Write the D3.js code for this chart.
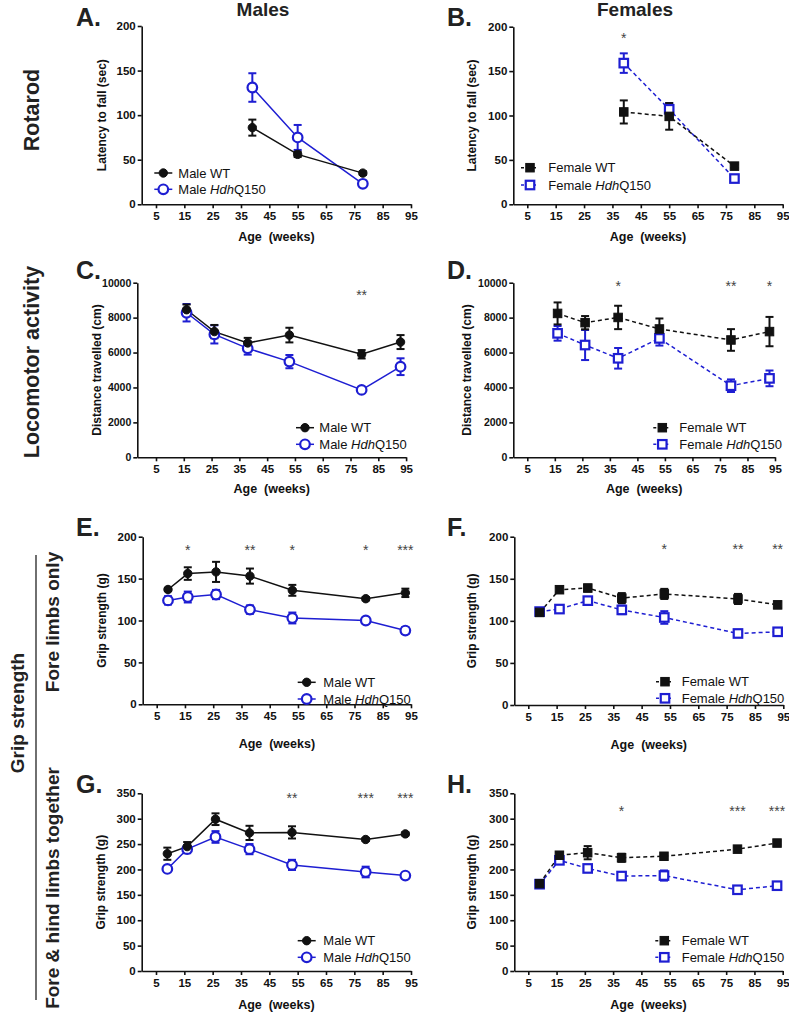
<!DOCTYPE html>
<html><head><meta charset="utf-8">
<script src="https://cdn.jsdelivr.net/npm/d3@7"></script>
<style>body{margin:0;background:#fff}svg{display:block}</style>
</head><body>
<svg id="c" width="789" height="1022"></svg>
<script>
// ---------------- DATA ----------------
const xTickLabels = [5, 15, 25, 35, 45, 55, 65, 75, 85, 95];

const rotarodWeeks = [39, 55, 78];
const maleWTRotarod = [86, 56, 35];
const maleWTRotarodErr = [9, 3, 2];
const maleQRotarod = [131, 75, 23];
const maleQRotarodErr = [16, 14, 2];
const femaleWTRotarod = [104, 99, 43];
const femaleWTRotarodErr = [13, 15, 2];
const femaleQRotarod = [159, 107, 29];
const femaleQRotarodErr = [11, 7, 2];

const locoWeeks = [16, 26, 38, 53, 79, 93];
const maleWTLoco = [8450, 7200, 6550, 7000, 5900, 6600];
const maleWTLocoErr = [300, 380, 290, 420, 240, 400];
const maleQLoco = [8280, 7040, 6240, 5480, 3860, 5190];
const maleQLocoErr = [500, 520, 360, 380, 100, 480];
const femaleWTLoco = [8240, 7710, 8010, 7350, 6720, 7200];
const femaleWTLocoErr = [630, 380, 670, 600, 620, 840];
const femaleQLoco = [7100, 6430, 5670, 6810, 4100, 4520];
const femaleQLocoErr = [420, 860, 590, 410, 360, 450];

const gripWeeks = [9, 16, 26, 38, 53, 79, 93];
const maleWTFore = [137, 156, 158, 153, 136, 126, 133];
const maleWTForeErr = [2, 7.5, 12, 9, 6.5, 2, 5];
const maleQFore = [124, 128, 131, 113, 103, 100, 88];
const maleQForeErr = [5, 6.5, 5.5, 5, 6.5, 2, 4];
const femaleWTFore = [110, 137, 139, 127, 132, 126, 119];
const femaleWTForeErr = [3, 3, 4, 6, 6, 6, 4];
const femaleQFore = [111, 114, 124, 113, 104, 85, 87];
const femaleQForeErr = [3, 4, 4, 5, 7.5, 3, 4];
const maleWTBoth = [231, 245, 299, 272, 273, 259, 270];
const maleWTBothErr = [12, 9, 11.5, 14, 12, 3, 3];
const maleQBoth = [201, 240, 264, 240, 209, 195, 188];
const maleQBothErr = [4, 8, 11.5, 10, 10, 10.5, 3];
const femaleWTBoth = [172, 228, 233, 223, 226, 240, 252];
const femaleWTBothErr = [4, 6, 13, 8, 5, 4, 4];
const femaleQBoth = [171, 218, 202, 187, 188, 160, 168];
const femaleQBothErr = [5, 6, 5, 5, 10, 5, 5];

const starsA = [];
const starsB = [[39, "*"]];
const starsC = [[79, "**"]];
const starsD = [[38, "*"], [79, "**"], [93, "*"]];
const starsE = [[16, "*"], [38, "**"], [53, "*"], [79, "*"], [93, "***"]];
const starsF = [[53, "*"], [79, "**"], [93, "**"]];
const starsG = [[53, "**"], [79, "***"], [93, "***"]];
const starsH = [[38, "*"], [79, "***"], [93, "***"]];

const rotarodTicks = [0, 50, 100, 150, 200];
const locoTicks = [0, 2000, 4000, 6000, 8000, 10000];
const foreTicks = [0, 50, 100, 150, 200];
const bothTicks = [0, 50, 100, 150, 200, 250, 300, 350];

// ---------------- STYLE / LAYOUT ----------------
const FONT = "'Liberation Sans', Arial, Helvetica, sans-serif";
const BLUE = "#1e1ed2";
const svg = d3.select("#c");

function panel(cfg) {
  const g = svg.append("g");
  const per = (cfg.x95 - cfg.x5) / 90;
  const xmin = 5 - (cfg.x5 - cfg.ax) / per;
  const x = d3.scaleLinear().domain([xmin, 95]).range([cfg.ax, cfg.x95]);
  const y = d3.scaleLinear().domain([0, cfg.ymax]).range([cfg.y0, cfg.yTop]);

  const yAx = g.append("g").attr("transform", `translate(${cfg.ax},0)`)
    .call(d3.axisLeft(y).tickValues(cfg.yTicks).tickFormat(d3.format("d"))
      .tickSize(4).tickSizeOuter(0).tickPadding(2));
  const xAx = g.append("g").attr("transform", `translate(0,${cfg.y0})`)
    .call(d3.axisBottom(x).tickValues(xTickLabels).tickSize(4).tickSizeOuter(0).tickPadding(4));
  [yAx, xAx].forEach(a => {
    a.selectAll("path,line").attr("stroke", "#111").attr("stroke-width", 1.6);
    a.selectAll("text").attr("font-family", FONT).attr("font-weight", "bold")
      .attr("font-size", 11.5).attr("fill", "#111");
  });
  yAx.selectAll("text").attr("font-size", cfg.yTickSize);

  // axis titles
  g.append("text").attr("x", (cfg.ax + cfg.x95) / 2).attr("y", cfg.y0 + cfg.xlabOff)
    .attr("text-anchor", "middle").attr("font-family", FONT).attr("font-weight", "bold")
    .attr("font-size", 12.5).attr("fill", "#111").style("white-space", "pre").text("Age  (weeks)");
  g.append("text")
    .attr("transform", `translate(${cfg.ylabX + 4.5},${(cfg.y0 + cfg.yTop) / 2}) rotate(-90)`)
    .attr("text-anchor", "middle").attr("font-family", FONT).attr("font-weight", "bold")
    .attr("font-size", 12).attr("fill", "#111").text(cfg.ylab);

  // panel letter
  g.append("text").attr("x", cfg.letter[0]).attr("y", cfg.letter[1])
    .attr("font-family", FONT).attr("font-weight", "bold").attr("font-size", 25)
    .attr("fill", "#222").text(cfg.letterText);

  const female = cfg.female;
  const series = [
    { vals: cfg.q, err: cfg.qErr, color: BLUE, open: true },
    { vals: cfg.wt, err: cfg.wtErr, color: "#111", open: false }
  ];
  const dash = female ? "4,3" : null;

  // error bars
  series.forEach(s => {
    cfg.weeks.forEach((w, i) => {
      const cx = x(w), y1 = y(s.vals[i] - s.err[i]), y2 = y(s.vals[i] + s.err[i]);
      g.append("line").attr("x1", cx).attr("x2", cx).attr("y1", y1).attr("y2", y2)
        .attr("stroke", s.color).attr("stroke-width", 2);
      [y1, y2].forEach(yy => g.append("line").attr("x1", cx - 4).attr("x2", cx + 4)
        .attr("y1", yy).attr("y2", yy).attr("stroke", s.color).attr("stroke-width", 2));
    });
  });
  // lines
  series.forEach(s => {
    const line = d3.line().x((d, i) => x(cfg.weeks[i])).y(d => y(d));
    g.append("path").datum(s.vals).attr("d", line).attr("fill", "none")
      .attr("stroke", s.color).attr("stroke-width", 1.5)
      .attr("stroke-dasharray", dash);
  });
  // markers
  function marker(sel, cx, cy, s) {
    if (female) {
      const sz = 8.5;
      sel.append("rect").attr("x", cx - sz / 2).attr("y", cy - sz / 2).attr("width", sz).attr("height", sz)
        .attr("fill", s.open ? "#fff" : s.color).attr("stroke", s.color)
        .attr("stroke-width", s.open ? 2.2 : 1);
    } else {
      sel.append("circle").attr("cx", cx).attr("cy", cy).attr("r", s.open ? 4.8 : 4.2)
        .attr("fill", s.open ? "#fff" : s.color).attr("stroke", s.color)
        .attr("stroke-width", s.open ? 2.2 : 1);
    }
  }
  series.forEach(s => {
    cfg.weeks.forEach((w, i) => marker(g, x(w), y(s.vals[i]), s));
  });

  // stars
  cfg.stars.forEach(([w, t]) => {
    g.append("text").attr("x", x(w)).attr("y", y(cfg.starY) + 8).attr("text-anchor", "middle")
      .attr("font-family", FONT).attr("font-size", 14).attr("fill", "#444").text(t);
  });

  // legend
  const L = cfg.legend;
  const ls = [
    { s: series[1], y: L.y1, label: female ? "Female WT" : "Male WT" },
    { s: series[0], y: L.y2, label: female ? "Female " : "Male ", q: true }
  ];
  ls.forEach(item => {
    g.append("line").attr("x1", L.sx - 9).attr("x2", L.sx + 9).attr("y1", item.y).attr("y2", item.y)
      .attr("stroke", item.s.color).attr("stroke-width", 1.5).attr("stroke-dasharray", female ? "3,3" : null);
    marker(g, L.sx, item.y, item.s);
    const t = g.append("text").attr("x", L.tx).attr("y", item.y + 4.7)
      .attr("font-family", FONT).attr("font-size", 13).attr("fill", "#111");
    t.append("tspan").text(item.label);
    if (item.q) {
      t.append("tspan").attr("font-style", "italic").text("Hdh");
      t.append("tspan").text("Q150");
    }
  });
}

const panels = [
  { letterText: "A.", female: false, ax: 141.7, x5: 156, x95: 411, y0: 204.3, yTop: 26, ymax: 200, yTicks: rotarodTicks, yTickSize: 11.5, xlabOff: 37,
    ylab: "Latency to fall (sec)", ylabX: 101.7, letter: [76, 26], legend: { sx: 163.3, tx: 178.3, y1: 173, y2: 189.3 },
    weeks: rotarodWeeks, wt: maleWTRotarod, wtErr: maleWTRotarodErr, q: maleQRotarod, qErr: maleQRotarodErr, stars: starsA, starY: 190 },
  { letterText: "B.", female: true, ax: 513.3, x5: 527.3, x95: 782.7, y0: 204.3, yTop: 26.7, ymax: 200, yTicks: rotarodTicks, yTickSize: 11.5, xlabOff: 37,
    ylab: "Latency to fall (sec)", ylabX: 471.7, letter: [447, 26], legend: { sx: 530, tx: 548.3, y1: 167.7, y2: 185 },
    weeks: rotarodWeeks, wt: femaleWTRotarod, wtErr: femaleWTRotarodErr, q: femaleQRotarod, qErr: femaleQRotarodErr, stars: starsB, starY: 191 },
  { letterText: "C.", female: false, ax: 137.3, x5: 156, x95: 406.1, y0: 457.3, yTop: 282.7, ymax: 10000, yTicks: locoTicks, yTickSize: 10.5, xlabOff: 36,
    ylab: "Distance travelled (cm)", ylabX: 96, letter: [76, 279], legend: { sx: 305, tx: 319.3, y1: 427.7, y2: 444.3 },
    weeks: locoWeeks, wt: maleWTLoco, wtErr: maleWTLocoErr, q: maleQLoco, qErr: maleQLocoErr, stars: starsC, starY: 9485 },
  { letterText: "D.", female: true, ax: 513.3, x5: 527.3, x95: 775, y0: 457.3, yTop: 282.7, ymax: 10000, yTicks: locoTicks, yTickSize: 10.5, xlabOff: 36,
    ylab: "Distance travelled (cm)", ylabX: 466.7, letter: [447, 279], legend: { sx: 662.3, tx: 679.3, y1: 427.7, y2: 444.3 },
    weeks: locoWeeks, wt: femaleWTLoco, wtErr: femaleWTLocoErr, q: femaleQLoco, qErr: femaleQLocoErr, stars: starsD, starY: 10000 },
  { letterText: "E.", female: false, ax: 142.7, x5: 156.7, x95: 411, y0: 704.3, yTop: 536.7, ymax: 200, yTicks: foreTicks, yTickSize: 11.5, xlabOff: 44,
    ylab: "Grip strength (g)", ylabX: 101.7, letter: [76, 536], legend: { sx: 306.7, tx: 323.3, y1: 682.3, y2: 699 },
    weeks: gripWeeks, wt: maleWTFore, wtErr: maleWTForeErr, q: maleQFore, qErr: maleQForeErr, stars: starsE, starY: 188 },
  { letterText: "F.", female: true, ax: 514.3, x5: 528.3, x95: 783.3, y0: 705, yTop: 536.7, ymax: 200, yTicks: foreTicks, yTickSize: 11.5, xlabOff: 44,
    ylab: "Grip strength (g)", ylabX: 471.7, letter: [447, 536], legend: { sx: 665, tx: 681.7, y1: 681.7, y2: 698.3 },
    weeks: gripWeeks, wt: femaleWTFore, wtErr: femaleWTForeErr, q: femaleQFore, qErr: femaleQForeErr, stars: starsF, starY: 189 },
  { letterText: "G.", female: false, ax: 141.7, x5: 156, x95: 411, y0: 971, yTop: 793.3, ymax: 350, yTicks: bothTicks, yTickSize: 11.5, xlabOff: 38,
    ylab: "Grip strength (g)", ylabX: 100.7, letter: [76, 793], legend: { sx: 306.7, tx: 323.3, y1: 940.7, y2: 957.3 },
    weeks: gripWeeks, wt: maleWTBoth, wtErr: maleWTBothErr, q: maleQBoth, qErr: maleQBothErr, stars: starsG, starY: 346 },
  { letterText: "H.", female: true, ax: 514.3, x5: 528.3, x95: 782.7, y0: 971, yTop: 793.3, ymax: 350, yTicks: bothTicks, yTickSize: 11.5, xlabOff: 38,
    ylab: "Grip strength (g)", ylabX: 471.7, letter: [447, 793], legend: { sx: 664.3, tx: 681.7, y1: 940.7, y2: 957.3 },
    weeks: gripWeeks, wt: femaleWTBoth, wtErr: femaleWTBothErr, q: femaleQBoth, qErr: femaleQBothErr, stars: starsH, starY: 321 }
];
panels.forEach(panel);

// column titles
[["Males", 263], ["Females", 635]].forEach(([t, cx]) =>
  svg.append("text").attr("x", cx).attr("y", 16).attr("text-anchor", "middle")
    .attr("font-family", FONT).attr("font-weight", "bold").attr("font-size", 19).attr("fill", "#222").text(t));

// row labels
function rowLabel(t, x, y, size) {
  svg.append("text").attr("transform", `translate(${x},${y}) rotate(-90)`).attr("text-anchor", "middle")
    .attr("font-family", FONT).attr("font-weight", "bold").attr("font-size", size).attr("fill", "#222").text(t);
}
rowLabel("Rotarod", 39, 110, 21.5);
rowLabel("Locomotor activity", 39, 362, 21.5);
rowLabel("Grip strength", 24, 713, 19);
rowLabel("Fore limbs only", 59, 622, 19);
rowLabel("Fore & hind limbs together", 59, 888, 19);
svg.append("line").attr("x1", 36).attr("x2", 36).attr("y1", 555).attr("y2", 1000)
  .attr("stroke", "#222").attr("stroke-width", 1.3);
</script>
</body></html>
